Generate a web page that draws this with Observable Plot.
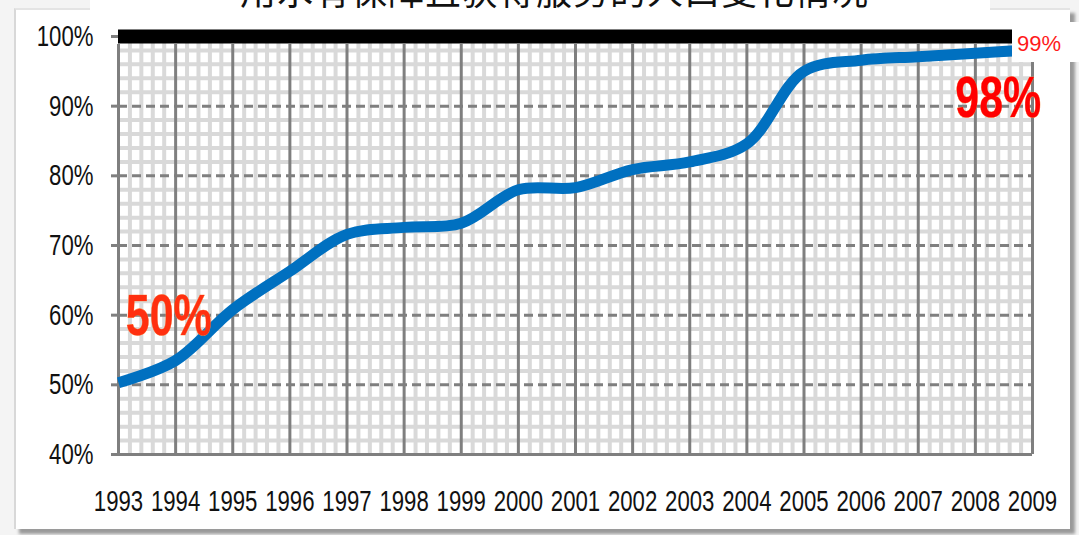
<!DOCTYPE html>
<html>
<head>
<meta charset="utf-8">
<script src="https://cdn.jsdelivr.net/npm/d3@7"></script>
<script src="https://cdn.jsdelivr.net/npm/@observablehq/plot@0.6"></script>
<style>
  html, body { margin: 0; padding: 0; background: #ffffff; }
  #wrap { position: relative; width: 1079px; height: 535px; overflow: hidden; background: #f4f4f4; }
  #frame { position: absolute; left: 14px; top: 8px; width: 1054px; height: 519px; background: #ffffff;
           border-left: 2px solid #d8d8d8; border-top: 2px solid #e4e4e4;
           box-shadow: 5px 5px 3px #9a9a9a; }
  #titlebox { position: absolute; left: 90px; top: 0; width: 900px; height: 24px; background: #fff; overflow: hidden; }
  #title { position: absolute; left: 150px; top: -37px; font-family: "Noto Sans CJK SC", sans-serif; font-size: 36px;
           color: #111; white-space: nowrap; letter-spacing: 1px; }
  #chart { position: absolute; left: 0; top: 0; }
  #lab99 { position: absolute; left: 1012px; top: 22px; width: 67px; height: 40px; background: #fff;
           color: #ff1a1a; font-family: "Liberation Sans", Arial, sans-serif; font-size: 22px; line-height: 44px; padding-left: 5px; box-sizing: border-box; }
</style>
</head>
<body>
<div id="wrap">
  <div id="frame"></div>
  <div id="titlebox"><div id="title">用水有保障且获得服务的人口变化情况</div></div>
  <div id="chart"></div>
  <div id="lab99">99%</div>
</div>
<script>
const years = [1993,1994,1995,1996,1997,1998,1999,2000,2001,2002,2003,2004,2005,2006,2007,2008,2009];
const values = [50.3,53.5,60.8,66.3,71.6,72.6,73.2,78.0,78.3,80.9,82.0,84.6,95.0,96.6,97.1,97.6,98.1];
const yTicks = [40,50,60,70,80,90,100];
const minorX = d3.range(1993, 2009.001, 0.2).filter(v => Math.abs(v - Math.round(v)) > 1e-6);
const minorY = d3.range(40, 100, 2).filter(v => v % 10 !== 0);
const dashedY = [50,60,70,80,90];
const annotations = [
  {year: 1993.88, value: 59.8, text: "50%", color: "#ff3010"},
  {year: 2008.4, value: 91.1, text: "98%", color: "#ff0000"}
];
const data = years.map((y, i) => ({year: y, value: values[i]}));
const font = '"Liberation Sans", Arial, sans-serif';

const chart = Plot.plot({
  width: 1079,
  height: 535,
  marginLeft: 118,
  marginRight: 47,
  marginTop: 36,
  marginBottom: 81,
  style: {background: "transparent", fontFamily: font, overflow: "visible"},
  x: {domain: [1993, 2009], axis: null},
  y: {domain: [40, 100], axis: null},
  marks: [
    Plot.ruleX(minorX, {stroke: "#d9d9d9", strokeWidth: 4}),
    Plot.ruleY(minorY, {stroke: "#d9d9d9", strokeWidth: 4}),
    Plot.ruleY(dashedY, {stroke: "#7f7f7f", strokeWidth: 3, strokeDasharray: "9,5", x1: 1993, x2: 2009}),
    Plot.ruleX(years, {stroke: "#7f7f7f", strokeWidth: 3, y1: 40, y2: 100, insetBottom: -8}),
    Plot.ruleY(dashedY, {stroke: "#7f7f7f", strokeWidth: 3, x1: 1993, x2: 1993, insetLeft: -7}),
    Plot.ruleY([40], {stroke: "#7f7f7f", strokeWidth: 3, x1: 1993, x2: 2009, insetLeft: -7}),
    Plot.ruleY([100], {stroke: "#7f7f7f", strokeWidth: 3, x1: 1993, x2: 1993, insetLeft: -7}),
    Plot.ruleY([100], {stroke: "#000000", strokeWidth: 14, x1: 1993, x2: 2009}),
    Plot.line(data, {x: "year", y: "value", stroke: "#0070c0", strokeWidth: 11, curve: "catmull-rom", strokeLinecap: "butt"}),
    Plot.text(yTicks, {x: 1993, y: d => d, text: d => d + "%", textAnchor: "end", dx: -25, fontSize: 30, fill: "#111", fontFamily: font}),
    Plot.text(years, {x: d => d, y: 40, text: d => String(d), dy: 47, fontSize: 30, fill: "#111", fontFamily: font}),
    Plot.text(annotations, {x: "year", y: "value", text: "text", fill: "color", fontSize: 58, fontWeight: "bold", fontFamily: font, stroke: "#ff8a40", strokeWidth: 0.6})
  ]
});

// condense text horizontally (narrow-font look of the original)
chart.querySelectorAll('g[aria-label="text"] text').forEach(t => {
  let tr = t.getAttribute("transform") || "";
  if (t.hasAttribute("x")) {
    const x = t.getAttribute("x");
    t.removeAttribute("x");
    tr += ` translate(${x},0)`;
  }
  t.setAttribute("transform", tr + " scale(0.74,1)");
});

document.getElementById("chart").appendChild(chart);
</script>
</body>
</html>
